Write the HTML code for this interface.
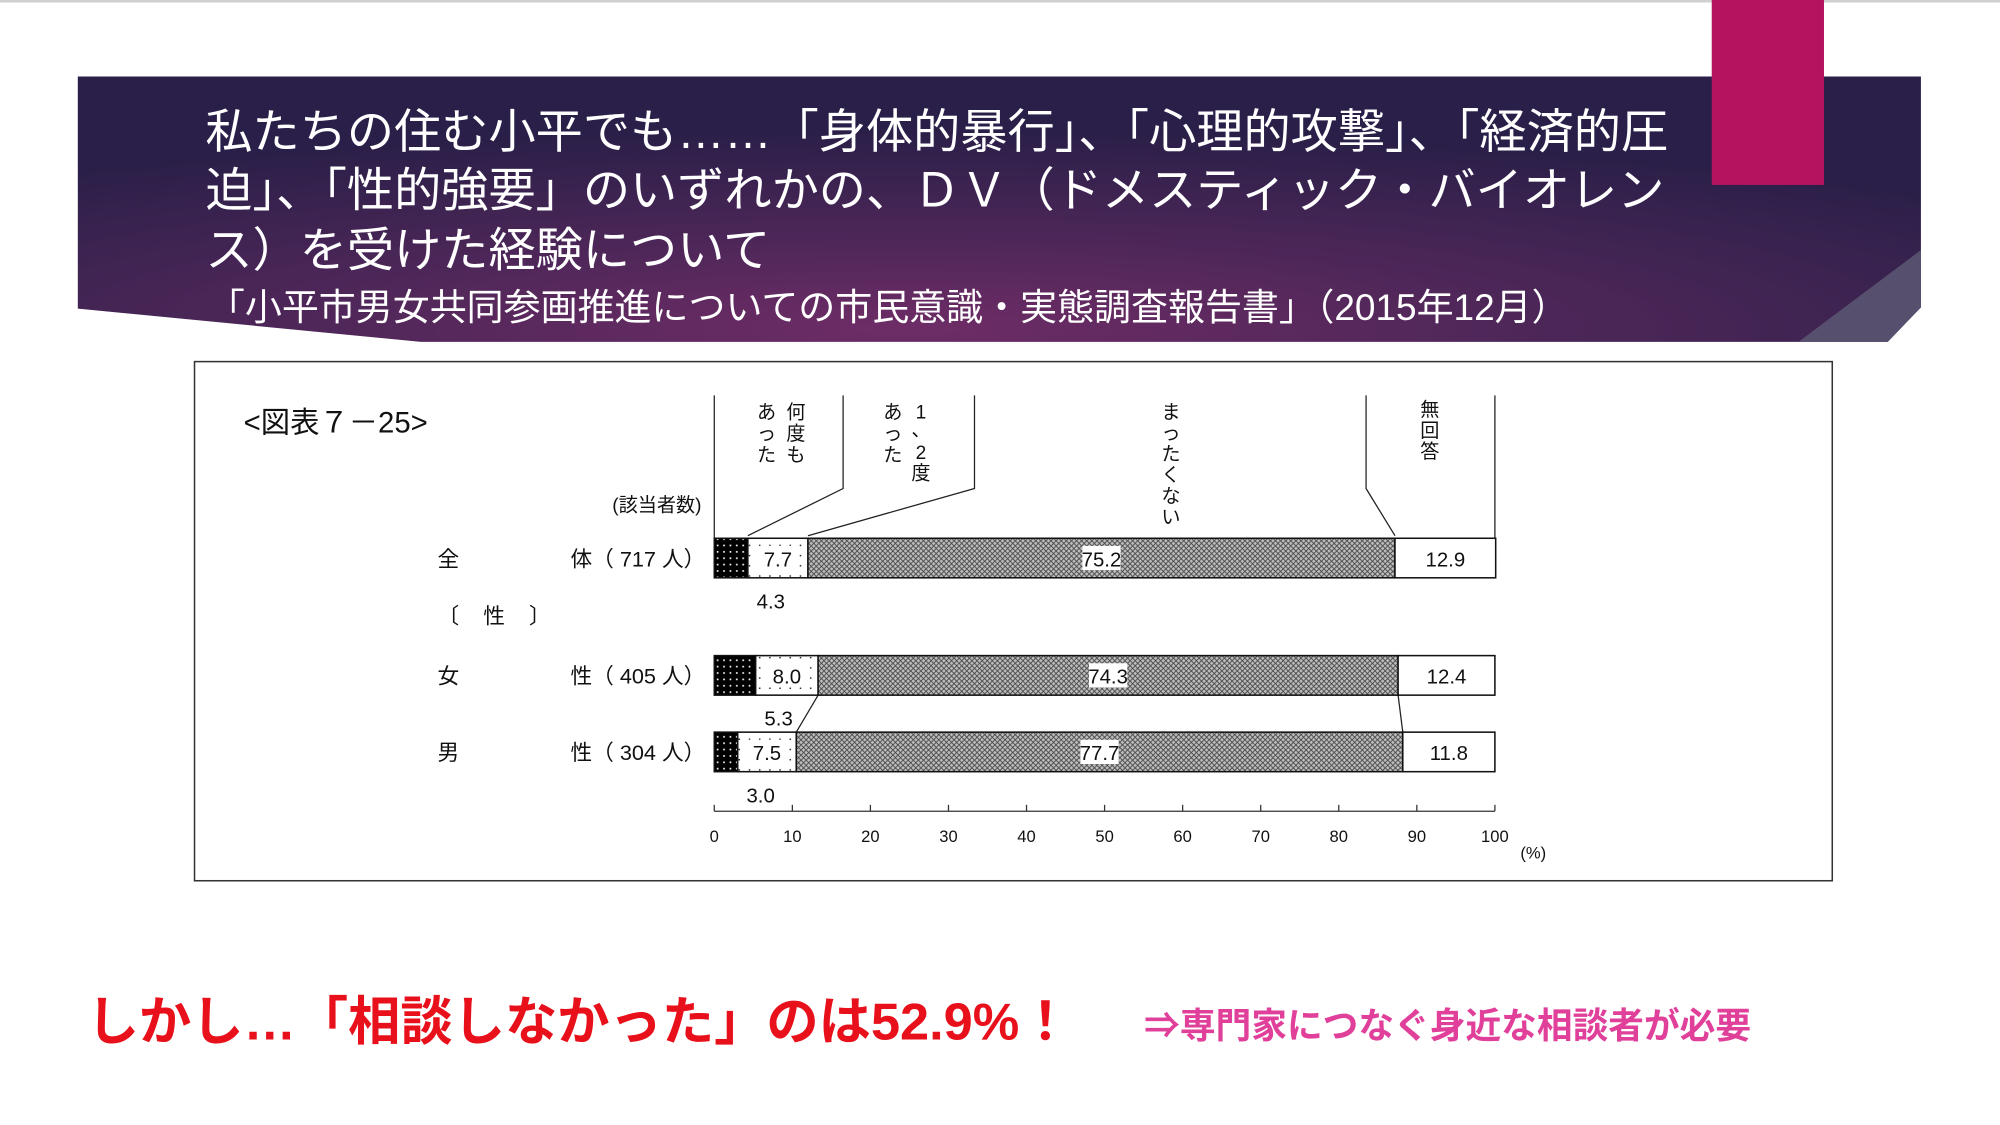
<!DOCTYPE html>
<html><head><meta charset="utf-8">
<style>
html,body{margin:0;padding:0;background:#fff;width:2000px;height:1125px;overflow:hidden}
svg{display:block;font-family:"Liberation Sans","Noto Sans CJK JP",sans-serif}
</style></head>
<body>
<svg id="slide" width="2000" height="1125" viewBox="0 0 1568 882" xmlns="http://www.w3.org/2000/svg">
<defs>
<radialGradient id="bg" cx="0.45" cy="0.95" r="0.75">
<stop offset="0" stop-color="#6e2c66"/><stop offset="0.5" stop-color="#4a2657"/><stop offset="1" stop-color="#2a1f48"/>
</radialGradient>
<pattern id="p1" width="5" height="5" patternUnits="userSpaceOnUse"><rect width="5" height="5" fill="#000"/><rect x="2" y="2" width="1.3" height="1.3" fill="#fff"/></pattern>
<pattern id="p2" width="8" height="8" patternUnits="userSpaceOnUse"><rect width="8" height="8" fill="#fff"/><rect x="3" y="3" width="1.2" height="1.2" fill="#333"/></pattern>
<pattern id="p3" width="4" height="4" patternUnits="userSpaceOnUse"><rect width="4" height="4" fill="#bdbdbd"/><path d="M0,0L4,4M4,0L0,4" stroke="#444" stroke-width="0.7"/></pattern>
</defs>
<line x1="0" y1="1" x2="1568" y2="1" stroke="#d0d0d0" stroke-width="2"/>
<path d="M61,60 L1506,60 L1506,241 L1480,268 L330,268 L61,242 Z" fill="url(#bg)"/>
<path d="M1410,268 L1506,196 L1506,241 L1480,268 Z" fill="#56506e"/>
<rect x="1342" y="0" width="88" height="145" fill="#b5135f"/>
<g fill="#fff" font-size="37">
<text x="161" y="116">私たちの住む小平でも……「身体的暴行」、「心理的攻撃」、「経済的圧</text>
<text x="161" y="162">迫」、「性的強要」のいずれかの、ＤＶ（ドメスティック・バイオレン</text>
<text x="161" y="209">ス）を受けた経験について</text>
</g>
<text x="163" y="251" fill="#fff" font-size="29">「小平市男女共同参画推進についての市民意識・実態調査報告書」（2015年12月）</text>
<rect x="152.5" y="283.5" width="1284" height="407" fill="#fff" stroke="#333" stroke-width="1.2"/>
<text x="191" y="339" font-size="23" fill="#111">&lt;図表７－25&gt;</text>
<text x="550" y="401" font-size="15" text-anchor="end" fill="#111">(該当者数)</text>
<g id="rowlabels" font-size="17" fill="#111"></g>
<text x="343" y="489" font-size="17" fill="#111" xml:space="preserve">〔    性    〕</text>
<g id="leaders" stroke="#222" stroke-width="1" fill="none"></g>
<g id="heads" font-size="15" fill="#111" text-anchor="middle"></g>
<g id="bars"></g>
<g id="axis"></g>
<text x="68" y="815" font-size="41" font-weight="bold" fill="#e8101a">しかし…「相談しなかった」のは52.9%！</text>
<text x="897" y="814" font-size="28" font-weight="bold" fill="#e0409a">⇒専門家につなぐ身近な相談者が必要</text>
</svg>
<script>
const categories = ["全体", "女性", "男性"];
const counts = ["717", "405", "304"];
const series1 = [4.3, 5.3, 3.0];
const series2 = [7.7, 8.0, 7.5];
const series3 = [75.2, 74.3, 77.7];
const series4 = [12.9, 12.4, 11.8];
const ticks = [0, 10, 20, 30, 40, 50, 60, 70, 80, 90, 100];

const NS = "http://www.w3.org/2000/svg";
const X0 = 560, X1 = 1172;
const xs = v => X0 + (X1 - X0) * v / 100;
const rowTop = [422, 514, 574];
const BH = 31;
function mk(tag, attrs, parent, txt){
  const e = document.createElementNS(NS, tag);
  for (const k in attrs) e.setAttribute(k, attrs[k]);
  if (txt !== undefined) e.textContent = txt;
  parent.appendChild(e); return e;
}
const bars = document.getElementById('bars');
const fills = ["url(#p1)", "url(#p2)", "url(#p3)", "#fff"];
const allSeries = [series1, series2, series3, series4];
categories.forEach((c, i) => {
  let acc = 0;
  const y = rowTop[i];
  allSeries.forEach((s, k) => {
    const v = s[i];
    const r = mk('rect', {x: xs(acc), y: y, width: xs(acc + v) - xs(acc), height: BH, fill: fills[k], stroke: '#111', 'stroke-width': 1.2}, bars);
    
    
    const cx = xs(acc + v / 2);
    if (k > 0) {
      const label = v.toFixed(1);
      if (k === 1 || k === 2) {
        const w = 30;
        const b = mk('rect', {x: cx - w / 2, y: y + 6, width: w, height: 19, fill: '#fff'}, bars);
        
        
      }
      const t = mk('text', {x: cx, y: y + 22, 'font-size': 16, 'text-anchor': 'middle', fill: '#111'}, bars, label);
      
      
    } else {
      const t = mk('text', {x: xs(v) + 18, y: y + BH + 24, 'font-size': 16, 'text-anchor': 'middle', fill: '#111'}, bars, v.toFixed(1));
      
      
    }
    acc += v;
  });
});
// row labels
const rl = document.getElementById('rowlabels');
categories.forEach((c, i) => {
  const y = rowTop[i] + 22;
  const a = mk('text', {x: 343, y: y}, rl, c[0]);
  
  
  const b = mk('text', {x: 553, y: y, 'text-anchor': 'end'}, rl, c[1] + '（ ' + counts[i] + ' 人）');
  
  
});
// leader lines
const ld = document.getElementById('leaders');
const barTop = rowTop[0];
const cum1 = series1[0], cum2 = series1[0] + series2[0], cum3 = cum2 + series3[0];
[
  `M${X0},310 L${X0},${barTop}`,
  `M661,310 L661,383 L${xs(cum1)},${barTop - 2}`,
  `M764,310 L764,383 L${xs(cum2)},${barTop - 2}`,
  `M1071,310 L1071,383 L${xs(cum3)},${barTop - 2}`,
  `M${X1},310 L${X1},${barTop}`,
  `M${xs(series1[1]+series2[1])},${rowTop[1]+BH} L${xs(series1[2]+series2[2])},${rowTop[2]}`,
  `M${xs(100-series4[1])},${rowTop[1]+BH} L${xs(100-series4[2])},${rowTop[2]}`
].forEach(d => {
  const p = mk('path', {d: d}, ld);
  
  
});
// vertical headers
const hd = document.getElementById('heads');
function col(x, y0, str, step){
  [...str].forEach((ch, j) => {
    const t = mk('text', {x: x, y: y0 + j * step}, hd, ch);
    
    
  });
}
col(624, 328, "何度も", 17);
col(601, 328, "あった", 17);
col(722, 328, "1、", 14);
col(722, 360, "2度", 16);
col(700, 328, "あった", 17);
col(918, 328, "まったくない", 16.5);
col(1121, 326, "無回答", 16.5);
// axis
const ax = document.getElementById('axis');
const al = mk('line', {x1: X0, y1: 636, x2: X1, y2: 636, stroke: '#333', 'stroke-width': 1}, ax);


ticks.forEach(v => {
  const tk = mk('line', {x1: xs(v), y1: 631, x2: xs(v), y2: 636, stroke: '#333', 'stroke-width': 1}, ax);
  
  
  const t = mk('text', {x: xs(v), y: 660, 'font-size': 13, 'text-anchor': 'middle', fill: '#111'}, ax, String(v));
  
  
});
const pu = mk('text', {x: 1192, y: 673, 'font-size': 13, fill: '#111'}, ax, '(%)');


</script>
</body></html>
